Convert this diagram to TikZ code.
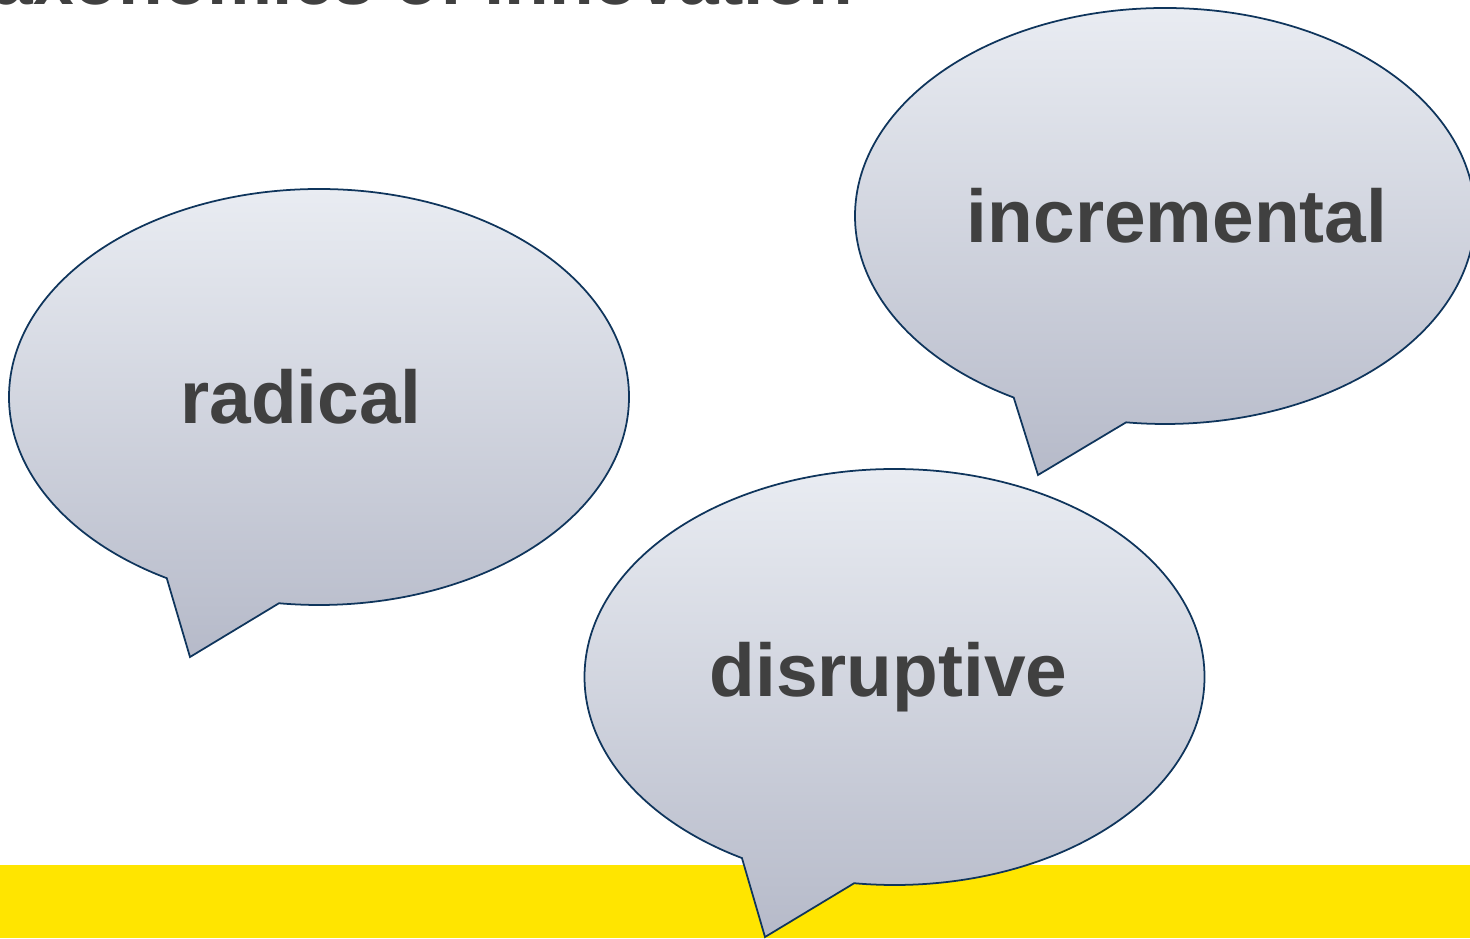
\documentclass[tikz,border=0pt]{standalone}
\usepackage{fontspec}
\setmainfont{Liberation Sans}
\usetikzlibrary{shapes.callouts, positioning}
\definecolor{bubbletop}{HTML}{E9ECF2}
\definecolor{bubblebottom}{HTML}{B6BAC9}
\definecolor{bubbleline}{HTML}{0F355C}
\definecolor{wordgray}{HTML}{404040}
\definecolor{bandyellow}{HTML}{FFE500}
\tikzset{
    word/.style={font=\fontsize{21.3}{25}\selectfont\bfseries, text=wordgray},
    bubble/.style={ellipse callout, draw=bubbleline, line width=0.5pt,
        top color=bubbletop, bottom color=bubblebottom,
        minimum width=6.2cm, minimum height=4.16cm, inner sep=0pt,
        callout pointer arc=22}
}

\begin{document}
\begin{tikzpicture}
    \useasboundingbox (0,0) rectangle (14.7,9.38);
    \clip (0,0) rectangle (14.7,9.38);

    \node[word, font=\fontsize{20.8}{25}\selectfont\bfseries, anchor=base east] (title) at (8.66,9.33) {Taxonomies of innovation};
    \fill[bandyellow] (0,0) rectangle (14.7,0.73);

    \node[bubble, callout absolute pointer={(1.90,2.81)}] (radical) at (3.19,5.41) {};
    \node[bubble, callout absolute pointer={(10.38,4.63)}] (incremental) at (11.65,7.22) {};
    \node[bubble, callout absolute pointer={(7.65,0.01)}] (disruptive) at (8.945,2.61) {};

    \node[word] (radicaltext) at ([xshift=-1.8mm]radical.center) {radical};
    \node[word] (incrementaltext) at ([xshift=1.2mm]incremental.center) {incremental};
    \node[word] (disruptivetext) at ([xshift=-0.6mm]disruptive.center) {disruptive};
\end{tikzpicture}
\end{document}
